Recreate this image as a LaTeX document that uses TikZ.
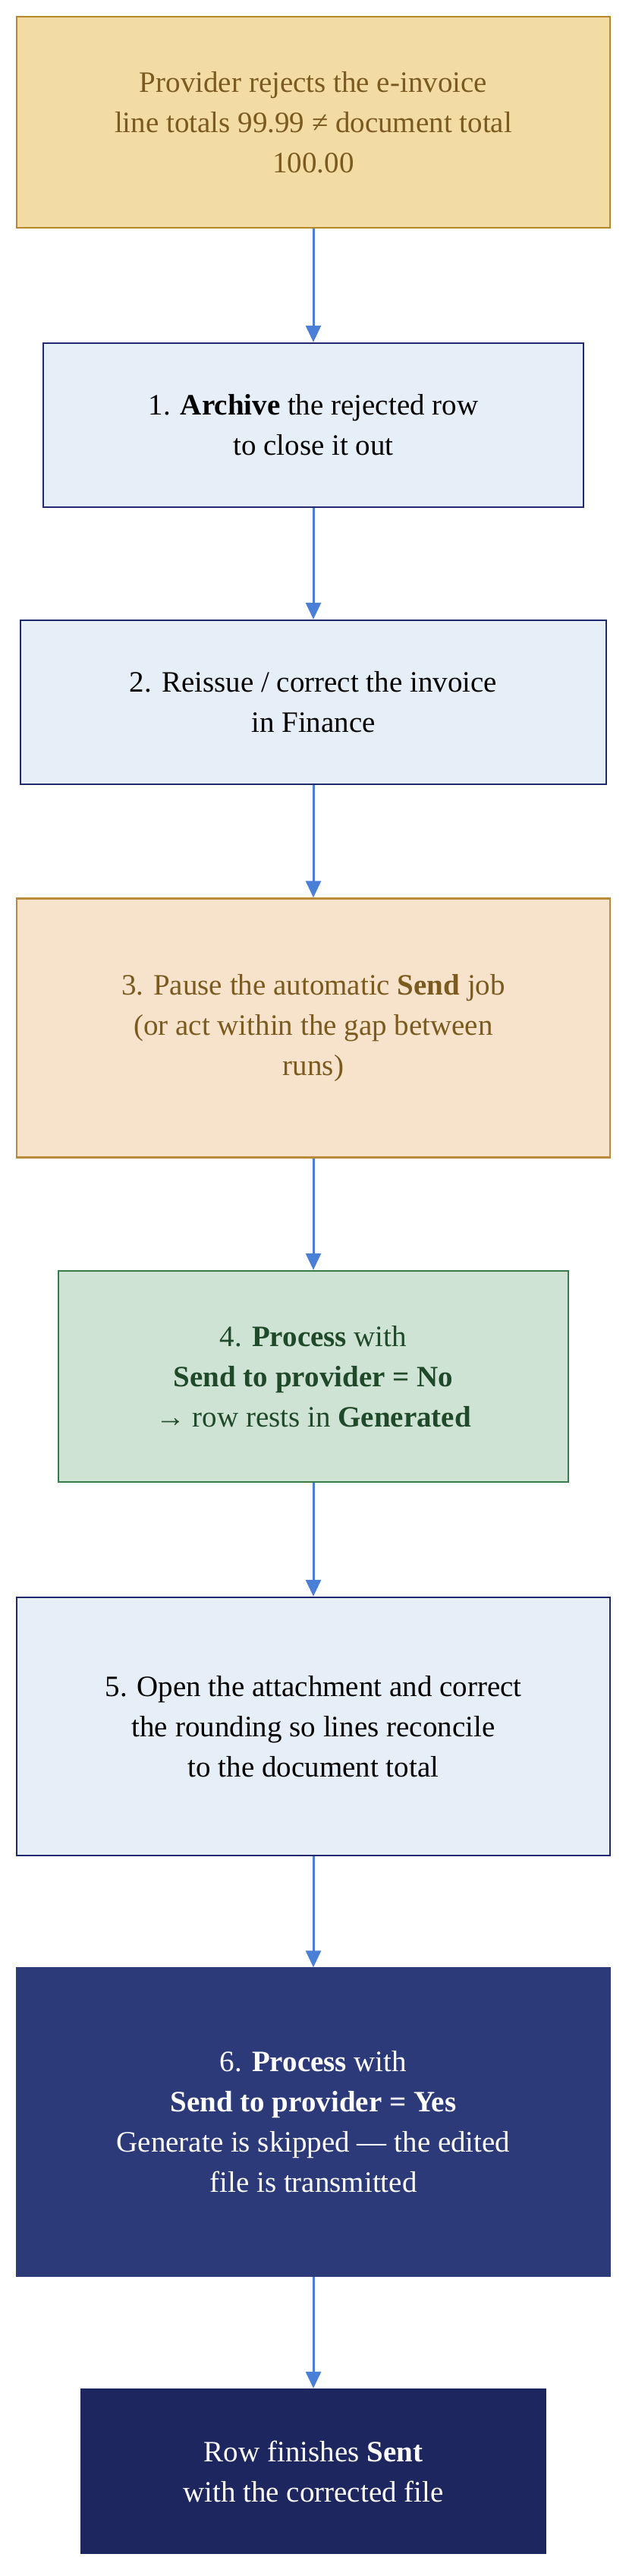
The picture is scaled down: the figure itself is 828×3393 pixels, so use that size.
\documentclass[tikz,border=0pt]{standalone}
\usepackage{fontspec}
\setmainfont{Liberation Serif}
\usetikzlibrary{arrows.meta}
\definecolor{wheatfill}{HTML}{F3DCA4}
\definecolor{wheatline}{HTML}{B8862B}
\definecolor{browntext}{HTML}{7A5A1E}
\definecolor{palefill}{HTML}{E6EEF8}
\definecolor{navyline}{HTML}{1F2A6E}
\definecolor{peachfill}{HTML}{F7E3CB}
\definecolor{peachline}{HTML}{B88A3A}
\definecolor{greenfill}{HTML}{CFE3D5}
\definecolor{greenline}{HTML}{3A7A48}
\definecolor{greentext}{HTML}{1F4A2A}
\definecolor{navyfill}{HTML}{2C3A7A}
\definecolor{darkfill}{HTML}{1E2660}
\definecolor{arrowblue}{HTML}{4A7FD8}
\tikzset{
  box/.style={draw, line width=2.5pt, align=center, font=\fontsize{39}{53}\selectfont},
  start/.style={box, fill=wheatfill, draw=wheatline, text=browntext},
  task/.style={box, fill=palefill, draw=navyline, text=black},
  pause/.style={box, fill=peachfill, draw=peachline, text=browntext},
  gen/.style={box, fill=greenfill, draw=greenline, text=greentext},
  send/.style={box, fill=navyfill, draw=navyfill, text=white},
  done/.style={box, fill=darkfill, draw=darkfill, text=white},
  arr/.style={-{Triangle[length=22pt,width=20pt]}, line width=3pt, arrowblue}
}
\begin{document}
\begin{tikzpicture}[x=1pt, y=-1pt]
  \useasboundingbox (0,0) rectangle (828,3393);

  % Steps
  \node[start, minimum width=782pt, minimum height=278pt] (reject) at (413,161)
    {Provider rejects the e-invoice\\line totals 99.99 ≠ document total\\100.00};
  \node[task, minimum width=712pt, minimum height=216pt] (archive) at (413,560)
    {1. \textbf{Archive} the rejected row\\to close it out};
  \node[task, minimum width=772pt, minimum height=216pt] (reissue) at (413,925)
    {2. Reissue / correct the invoice\\in Finance};
  \node[pause, minimum width=782pt, minimum height=341pt] (pause) at (413,1354)
    {3. Pause the automatic \textbf{Send} job\\(or act within the gap between\\runs)};
  \node[gen, minimum width=672pt, minimum height=278pt] (process) at (413,1813)
    {4. \textbf{Process} with\\\textbf{Send to provider = No}\\→ row rests in \textbf{Generated}};
  \node[task, minimum width=782pt, minimum height=340pt] (edit) at (413,2274)
    {5. Open the attachment and correct\\the rounding so lines reconcile\\to the document total};
  \node[send, minimum width=782pt, minimum height=405pt] (resend) at (413,2795)
    {6. \textbf{Process} with\\\textbf{Send to provider = Yes}\\Generate is skipped — the edited\\file is transmitted};
  \node[done, minimum width=612pt, minimum height=216pt] (sent) at (413,3255)
    {Row finishes \textbf{Sent}\\with the corrected file};

  % Connectors
  \foreach \a/\b in {reject/archive, archive/reissue, reissue/pause, pause/process,
                     process/edit, edit/resend, resend/sent}
    \draw[arr] (\a.south) -- (\b.north);
\end{tikzpicture}
\end{document}
